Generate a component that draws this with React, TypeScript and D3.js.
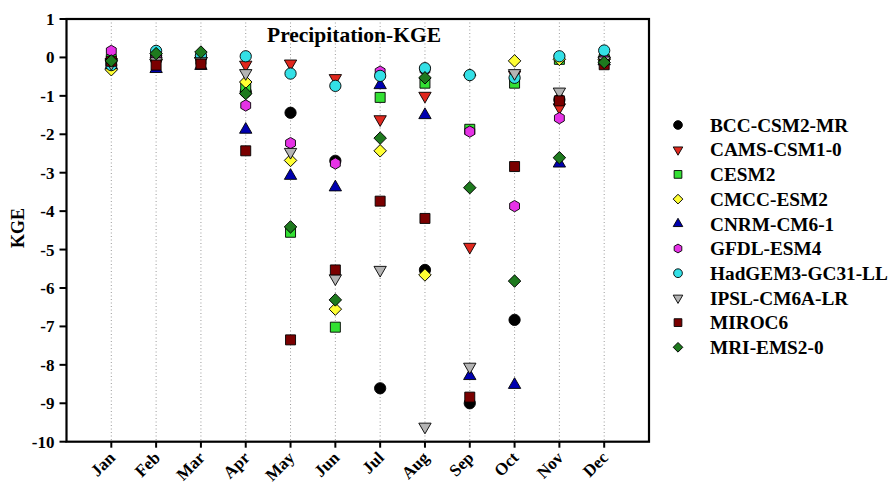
import React from 'react'
import * as d3 from 'd3'

const months = ['Jan', 'Feb', 'Mar', 'Apr', 'May', 'Jun', 'Jul', 'Aug', 'Sep', 'Oct', 'Nov', 'Dec']
const yTicks = [1, 0, -1, -2, -3, -4, -5, -6, -7, -8, -9, -10]

const models = [
  'BCC-CSM2-MR',
  'CAMS-CSM1-0',
  'CESM2',
  'CMCC-ESM2',
  'CNRM-CM6-1',
  'GFDL-ESM4',
  'HadGEM3-GC31-LL',
  'IPSL-CM6A-LR',
  'MIROC6',
  'MRI-EMS2-0',
]

// KGE per model, Jan..Dec
const bcc = [-0.1, 0.05, 0.0, -0.9, -1.44, -2.69, -8.61, -5.53, -9.0, -6.83, -1.1, -0.02]
const cams = [-0.12, -0.15, -0.1, -0.19, -0.16, -0.54, -1.61, -1.0, -4.93, -0.45, -1.3, -0.1]
const cesm = [-0.05, 0.0, -0.05, -0.77, -4.55, -7.02, -1.04, -0.67, -1.87, -0.67, -0.05, -0.05]
const cmcc = [-0.32, -0.05, 0.0, -0.64, -2.68, -6.55, -2.43, -5.66, -0.46, -0.09, -0.05, -0.05]
const cnrm = [-0.2, -0.3, -0.22, -1.88, -3.08, -3.38, -0.72, -1.5, -8.29, -8.52, -2.76, -0.1]
const gfdl = [0.17, 0.0, 0.0, -1.25, -2.23, -2.76, -0.37, -0.32, -1.93, -3.87, -1.58, -0.05]
const hadgem = [-0.2, 0.17, 0.05, 0.03, -0.42, -0.74, -0.48, -0.28, -0.46, -0.53, 0.03, 0.18]
const ipsl = [-0.15, -0.1, -0.1, -0.41, -2.46, -5.75, -5.53, -9.61, -8.05, -0.41, -0.89, -0.08]
const miroc = [-0.1, -0.2, -0.17, -2.43, -7.35, -5.53, -3.74, -4.19, -8.84, -2.84, -1.13, -0.19]
const mri = [-0.09, 0.1, 0.14, -0.94, -4.41, -6.31, -2.1, -0.53, -3.39, -5.82, -2.61, -0.13]

const seriesValues = [bcc, cams, cesm, cmcc, cnrm, gfdl, hadgem, ipsl, miroc, mri]

const colors = [
  '#000000',
  '#e0281e',
  '#33e033',
  '#ffff33',
  '#0000b0',
  '#e632e6',
  '#33e0e6',
  '#b4b4b4',
  '#7a0000',
  '#1e7a1e',
]

const hexagon = {
  draw(ctx: any, size: number) {
    const r = Math.sqrt(size / (1.5 * Math.sqrt(3)))
    for (let i = 0; i < 6; i++) {
      const a = -Math.PI / 2 + (i * Math.PI) / 3
      const px = r * Math.cos(a)
      const py = r * Math.sin(a)
      if (i === 0) ctx.moveTo(px, py)
      else ctx.lineTo(px, py)
    }
    ctx.closePath()
  },
}

// shape type, area, rotation
const shapes: [any, number, number][] = [
  [d3.symbolCircle, 100, 0],
  [d3.symbolTriangle, 66, 180],
  [d3.symbolSquare, 100, 0],
  [d3.symbolSquare, 78, 45],
  [d3.symbolTriangle, 66, 0],
  [hexagon, 84, 0],
  [d3.symbolCircle, 100, 0],
  [d3.symbolTriangle, 66, 180],
  [d3.symbolSquare, 100, 0],
  [d3.symbolSquare, 78, 45],
]

const width = 891
const height = 485
const plot = { left: 66.5, right: 649, top: 19, bottom: 441.7 }

const xScale = d3.scaleLinear().domain([0, 13]).range([plot.left, plot.right])
const yScale = d3.scaleLinear().domain([-10, 1]).range([plot.bottom, plot.top])

const font = '"Liberation Serif", "Times New Roman", serif'

function Marker({ i, x, y, scale = 1 }: { i: number; x: number; y: number; scale?: number }) {
  const [type, area, rot] = shapes[i]
  const path = d3.symbol().type(type).size(area * scale)()
  return (
    <path
      d={path || ''}
      transform={`translate(${x},${y}) rotate(${rot})`}
      fill={colors[i]}
      stroke="#000"
      strokeWidth={0.9}
    />
  )
}

function Grid() {
  return (
    <g>
      {months.map((m, i) => (
        <line
          key={m}
          x1={xScale(i + 1)}
          x2={xScale(i + 1)}
          y1={plot.top}
          y2={plot.bottom}
          stroke="#9a9a9a"
          strokeWidth={1}
          strokeDasharray="1,2.5"
        />
      ))}
    </g>
  )
}

function Axes() {
  return (
    <g fontFamily={font} fontWeight="bold" fill="#000">
      <rect
        x={plot.left}
        y={plot.top}
        width={plot.right - plot.left}
        height={plot.bottom - plot.top}
        fill="none"
        stroke="#000"
        strokeWidth={2.2}
      />
      {yTicks.map(t => (
        <g key={t}>
          <line x1={plot.left - 7} x2={plot.left} y1={yScale(t)} y2={yScale(t)} stroke="#000" strokeWidth={2} />
          <text x={plot.left - 12} y={yScale(t)} dy="0.35em" textAnchor="end" fontSize={17}>
            {t}
          </text>
        </g>
      ))}
      {months.map((m, i) => (
        <g key={m}>
          <line
            x1={xScale(i + 1)}
            x2={xScale(i + 1)}
            y1={plot.bottom}
            y2={plot.bottom + 6}
            stroke="#000"
            strokeWidth={2}
          />
          <text
            transform={`translate(${xScale(i + 1) + 5},${plot.bottom + 17}) rotate(-45)`}
            textAnchor="end"
            fontSize={17}
          >
            {m}
          </text>
        </g>
      ))}
      <text transform={`translate(24,228) rotate(-90)`} textAnchor="middle" fontSize={18}>
        KGE
      </text>
      <text x={354} y={42} textAnchor="middle" fontSize={21.5}>
        Precipitation-KGE
      </text>
    </g>
  )
}

function Legend() {
  return (
    <g fontFamily={font} fontWeight="bold">
      {models.map((m, i) => {
        const y = 125 + i * 24.7
        return (
          <g key={m}>
            <Marker i={i} x={678} y={y} scale={0.6} />
            <text x={710} y={y} dy="0.35em" fontSize={19.3} fill="#000">
              {m}
            </text>
          </g>
        )
      })}
    </g>
  )
}

export default function App() {
  return (
    <svg width={width} height={height} style={{ position: 'absolute', left: 0, top: 0, background: '#fff' }}>
      <rect width={width} height={height} fill="#fff" />
      <Grid />
      {seriesValues.map((vals, si) => (
        <g key={models[si]}>
          {vals.map((v, mi) => (
            <Marker key={mi} i={si} x={xScale(mi + 1)} y={yScale(v)} />
          ))}
        </g>
      ))}
      <Axes />
      <Legend />
    </svg>
  )
}
